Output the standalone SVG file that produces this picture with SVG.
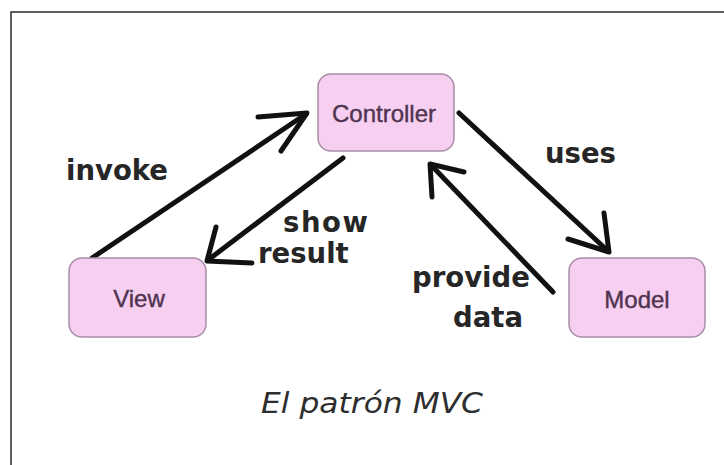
<svg xmlns="http://www.w3.org/2000/svg" width="724" height="465" viewBox="0 0 724 465">
  <style>
    .frame { fill: none; stroke: #2b2b2b; stroke-width: 1.5; }
    .node rect { fill: #f7cff1; stroke: #a98ea6; stroke-width: 1.5; }
    .node text { font-family: "Liberation Sans", Arial, sans-serif; font-size: 24px; fill: #4f3450; stroke: #4f3450; stroke-width: 0.4; text-anchor: middle; }
    .link { fill: none; stroke: #111; stroke-width: 5; stroke-linecap: round; stroke-linejoin: round; }
    .lbl { font-family: "DejaVu Sans", Verdana, sans-serif; font-weight: bold; font-size: 27.5px; fill: #262626; }
    .caption { font-family: "DejaVu Sans", Verdana, sans-serif; font-style: italic; font-size: 29px; fill: #2e2e2e; }
  </style>

  <rect width="724" height="465" fill="#fff"/>
  <!-- frame edges -->
  <path class="frame" d="M11,465 V12 H724"/>

  <!-- arrows -->
  <g id="connectors">
    <!-- View -> Controller (invoke) -->
    <path class="link" d="M92,258 L306,114"/>
    <path class="link" d="M258,117 L307,113 L281,151"/>
    <!-- Controller -> View (show result) -->
    <path class="link" d="M343,158 L208,260"/>
    <path class="link" d="M216,227 L207,261 L252,263"/>
    <!-- Controller -> Model (uses) -->
    <path class="link" d="M459,113 L608,251"/>
    <path class="link" d="M604,213 L609,252 L568,239"/>
    <!-- Model -> Controller (provide data) -->
    <path class="link" d="M553,292 L431,165"/>
    <path class="link" d="M464,172 L430,164 L432,197"/>
  </g>

  <g id="controller" class="node">
    <rect x="318" y="74" width="136" height="77" rx="13"/>
    <text x="384" y="122">Controller</text>
  </g>
  <g id="view" class="node">
    <rect x="69" y="258" width="137" height="79" rx="13"/>
    <text x="139" y="307">View</text>
  </g>
  <g id="model" class="node">
    <rect x="569" y="258" width="136" height="79" rx="13"/>
    <text x="637" y="308">Model</text>
  </g>

  <g id="labels">
    <text class="lbl" x="66" y="180">invoke</text>
    <text class="lbl" x="283" y="232" textLength="85">show</text>
    <text class="lbl" x="258" y="263">result</text>
    <text class="lbl" x="545" y="163">uses</text>
    <text class="lbl" x="412" y="287">provide</text>
    <text class="lbl" x="453" y="327">data</text>
  </g>

  <text class="caption" x="261" y="413" textLength="222" lengthAdjust="spacingAndGlyphs">El patrón MVC</text>
</svg>
